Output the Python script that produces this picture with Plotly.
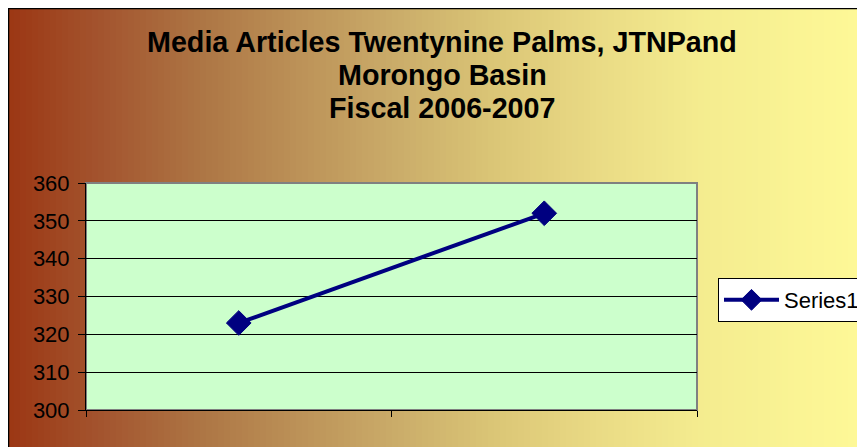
import plotly.graph_objects as go

categories = ["1", "2"]
series1 = [323, 352]
y_ticks = [300, 310, 320, 330, 340, 350, 360]
title_lines = ["Media Articles Twentynine Palms, JTNPand", "Morongo Basin", "Fiscal 2006-2007"]
series_name = "Series1"

W, H = 865, 447
OFF = 8  # page body margin
# plot area in screen pixels
SL, SR, ST, SB = 86, 697, 183, 410
L, R, T, B = SL - OFF, SR - OFF, ST - OFF, SB - OFF
pw, ph = R - L, B - T

def px_x(sx):
    return (sx - OFF - L) / pw

def px_y(sy):
    return (B - (sy - OFF)) / ph

# gradient stops (screen x, rgb)
stops = [(0, (155, 52, 17)), (100, (163, 84, 46)), (200, (173, 117, 68)),
         (300, (188, 146, 88)), (400, (203, 173, 106)), (500, (220, 199, 119)),
         (600, (234, 219, 133)), (700, (244, 236, 143)), (880, (255, 250, 152))]

def col_at(x):
    for (x0, c0), (x1, c1) in zip(stops[:-1], stops[1:]):
        if x0 <= x <= x1:
            t = (x - x0) / (x1 - x0)
            return "rgb(%d,%d,%d)" % tuple(round(a + (b - a) * t) for a, b in zip(c0, c1))
    return "rgb(%d,%d,%d)" % stops[-1][1]

shapes = []
step = 6
x = OFF
while x < W + OFF:
    x2 = x + step
    shapes.append(dict(type="rect", xref="paper", yref="paper", layer="below",
                       x0=px_x(x), x1=px_x(x2 + 0.5), y0=px_y(H + OFF + 5), y1=px_y(OFF),
                       fillcolor=col_at(x + step / 2), line=dict(width=0)))
    x += step
# outer chart border
shapes.append(dict(type="rect", xref="paper", yref="paper", layer="below",
                   x0=px_x(OFF + 0.5), x1=px_x(W + OFF + 10), y0=px_y(H + OFF + 10), y1=px_y(OFF + 0.5),
                   fillcolor="rgba(0,0,0,0)", line=dict(color="black", width=1.5)))
# plot area
shapes.append(dict(type="rect", xref="paper", yref="paper", layer="below",
                   x0=0, x1=1, y0=0, y1=1, fillcolor="#CCFFCC",
                   line=dict(color="#808080", width=2)))

fig = go.Figure()
fig.add_trace(go.Scatter(
    x=categories, y=series1, name=series_name, mode="lines+markers",
    line=dict(color="#000080", width=4),
    marker=dict(symbol="diamond", size=19, color="#000080",
                line=dict(color="#000080", width=1)),
    showlegend=True,
))

annotations = []
for i, line in enumerate(title_lines):
    annotations.append(dict(text="<b>%s</b>" % line, xref="paper", yref="paper",
                            x=px_x(442), y=px_y(42 + 33 * i), xanchor="center",
                            yanchor="middle", showarrow=False,
                            font=dict(family="Arial, Liberation Sans", size=28.7, color="black")))

fig.update_layout(
    width=W, height=H,
    margin=dict(l=L, r=W - R, t=T, b=H - B, autoexpand=False),
    paper_bgcolor="white", plot_bgcolor="rgba(0,0,0,0)",
    shapes=shapes, annotations=annotations,
    showlegend=True,
    legend=dict(x=px_x(718), y=px_y(278), xanchor="left", yanchor="top",
                bgcolor="white", bordercolor="black", borderwidth=1,
                font=dict(family="Arial, Liberation Sans", size=22, color="black"),
                itemwidth=55, tracegroupgap=0),
    font=dict(family="Arial, Liberation Sans", size=22, color="black"),
)
fig.update_xaxes(type="category", range=[-0.5, 1.5], showticklabels=False,
                 tickson="boundaries", ticks="outside", ticklen=6, tickcolor="black",
                 showgrid=False, showline=True, linecolor="black", linewidth=1,
                 zeroline=False)
fig.update_yaxes(range=[300, 360], tickvals=y_ticks, ticks="outside", ticklen=7,
                 tickcolor="black", showgrid=True, gridcolor="black", gridwidth=1,
                 showline=True, linecolor="black", linewidth=1, zeroline=False,
                 ticklabelstandoff=4,
                 tickfont=dict(family="Arial, Liberation Sans", size=22, color="black"))

fig.write_html("out.html")
